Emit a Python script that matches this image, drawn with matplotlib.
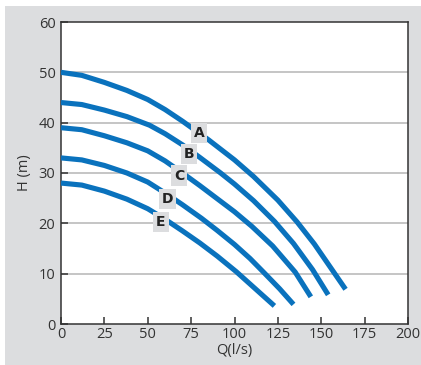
import matplotlib
matplotlib.use('Agg')

import matplotlib.pyplot as plt
from matplotlib.patches import Rectangle


# pump curves: flow Q (l/s) vs head H (m)
q_a = [0, 12, 25, 38, 50, 60, 70, 85, 100, 111, 125, 136, 146, 156, 164]
h_a = [50, 49.4, 48.0, 46.4, 44.6, 42.6, 40.3, 36.6, 32.6, 29.3, 24.6, 20.3, 15.9, 10.9, 6.9]
q_b = [0, 12, 25, 38, 51, 60, 70, 80, 92, 100, 111, 123, 134, 145, 154]
h_b = [44, 43.6, 42.5, 41.2, 39.5, 37.8, 35.6, 33.1, 30.0, 27.8, 24.5, 20.4, 16.0, 10.8, 5.8]
q_c = [0, 12, 25, 38, 50, 60, 70, 80, 90, 100, 110, 122, 135, 144]
h_c = [39, 38.6, 37.4, 36.0, 34.4, 32.4, 30.0, 27.5, 24.9, 22.3, 19.4, 15.5, 10.3, 5.4]
q_d = [0, 12, 25, 38, 50, 61, 70, 81, 90, 100, 109, 117, 126, 134]
h_d = [33, 32.6, 31.5, 30.0, 28.2, 25.8, 23.7, 21.0, 18.6, 15.8, 13.0, 10.2, 7.0, 3.9]
q_e = [0, 12, 25, 38, 50, 60, 70, 80, 90, 101, 112, 123]
h_e = [28, 27.6, 26.4, 24.8, 22.9, 20.8, 18.5, 16.1, 13.5, 10.4, 7.0, 3.6]

names = ['A', 'B', 'C', 'D', 'E']
label_q = [79.5, 73.8, 68.0, 61.4, 57.6]
label_h = [38.0, 33.8, 29.5, 24.8, 20.2]

x_ticks = [0, 25, 50, 75, 100, 125, 150, 175, 200]
y_ticks = [0, 10, 20, 30, 40, 50, 60]

blue = '#0a72bd'
panel = '#dcdddf'
ink = '#333333'

plt.rcParams['font.family'] = ['Open Sans', 'DejaVu Sans']

fig = plt.figure(figsize=(4.21, 3.65), dpi=100, facecolor=panel)
# white margin on top and left of the grey panel
fig.patches.append(Rectangle((0, 359 / 365), 1, 6 / 365, transform=fig.transFigure,
                             facecolor='white', edgecolor='none', zorder=-1))
fig.patches.append(Rectangle((0, 0), 5 / 421, 1, transform=fig.transFigure,
                             facecolor='white', edgecolor='none', zorder=-1))

ax = fig.add_axes([61 / 421, 41 / 365, 347 / 421, 302 / 365])
ax.set_facecolor('white')

for q, h in [(q_a, h_a), (q_b, h_b), (q_c, h_c), (q_d, h_d), (q_e, h_e)]:
    ax.plot(q, h, color=blue, lw=3.7, solid_capstyle='butt', solid_joinstyle='round', zorder=3)

for name, q, h in zip(names, label_q, label_h):
    ax.text(q, h, name, ha='center', va='center', fontsize=10, fontweight='bold',
            color='#222222', family=['DejaVu Sans'], zorder=4,
            bbox=dict(boxstyle='square,pad=0.22', facecolor=panel, edgecolor='none'))

ax.set_xlim(0, 200)
ax.set_ylim(0, 60)
ax.set_xticks(x_ticks)
ax.set_yticks(y_ticks)
for y in y_ticks[1:-1]:
    ax.axhline(y, color='#b5b5b5', lw=1.1, zorder=1)

for s in ax.spines.values():
    s.set_color(ink)
    s.set_linewidth(1.1)

ax.tick_params(axis='x', direction='in', length=5, width=1.1, color=ink,
               labelsize=10.5, labelcolor=ink, pad=2)
ax.tick_params(axis='y', direction='in', length=5, width=1.1, color=ink,
               labelsize=10.5, labelcolor=ink, pad=4)

ax.set_xlabel('Q(l/s)', fontsize=10.5, color=ink, labelpad=1)
ax.set_ylabel('H (m)', fontsize=10.5, color=ink, labelpad=5)

fig.savefig('out.png', dpi=100, facecolor=panel)
